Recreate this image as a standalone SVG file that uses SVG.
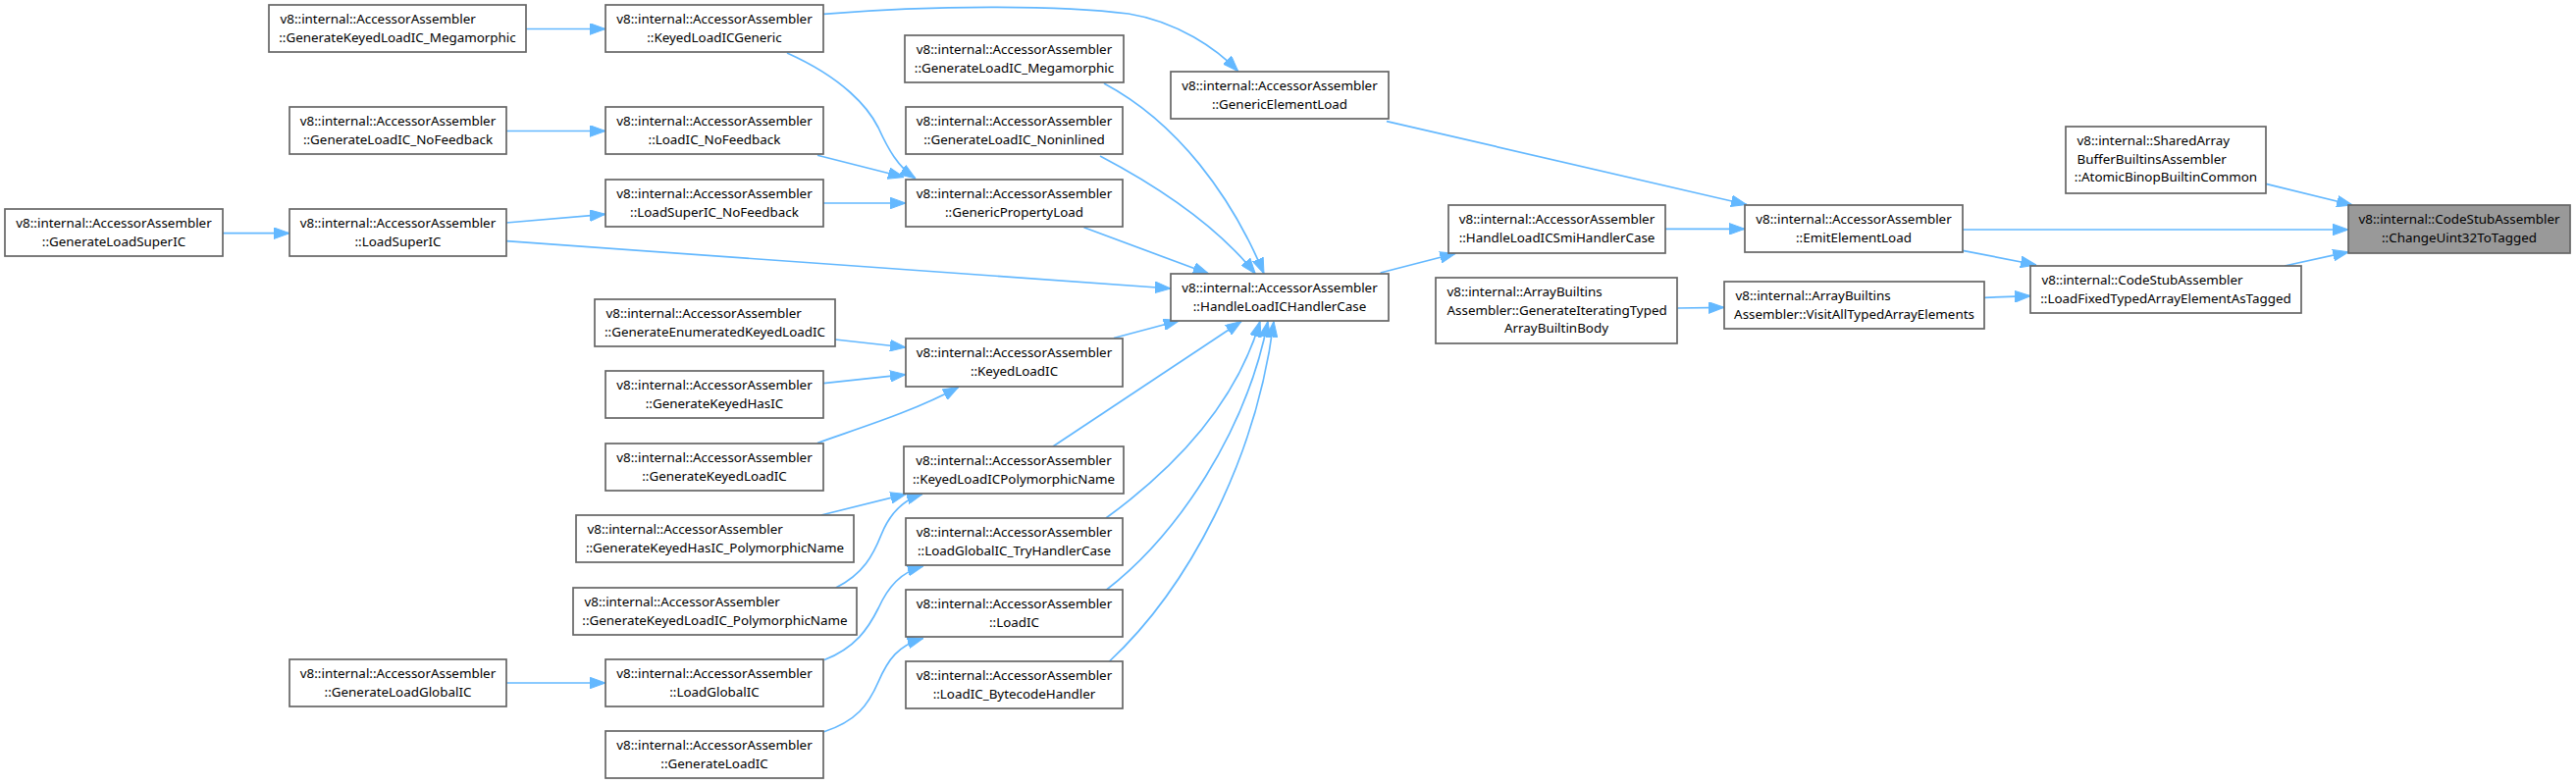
<svg xmlns="http://www.w3.org/2000/svg" width="2625" height="799" viewBox="0 0 2625 799">
<style>
.node rect{fill:#ffffff;stroke:#666666;stroke-width:1.7}
.node.hl rect{fill:#999999}
.node text{font-family:"Noto Sans","Open Sans","DejaVu Sans",sans-serif;font-size:13.4px;fill:#000000}
.c{text-anchor:middle}
.l{text-anchor:start}
.edge{fill:none;stroke:#63b8ff;stroke-width:1.7;marker-end:url(#arr)}
</style>
<defs>
<marker id="arr" markerUnits="userSpaceOnUse" viewBox="0 0 16 12" markerWidth="16" markerHeight="12" refX="16" refY="6" orient="auto">
<path d="M0,0.2 L16,6 L0,11.8 z" fill="#63b8ff" stroke="#63b8ff" stroke-width="1"/>
</marker>
</defs>
<rect x="0" y="0" width="2625" height="799" fill="#ffffff"/>
<g id="edges">
<path class="edge" d="M536,29.5 L617,29.5"/>
<path class="edge" d="M839,14.3 C950,5 1080,5 1150,14 C1200,22 1240,50 1261.7,72.7"/>
<path class="edge" d="M802,54 C860,80 885,110 895,130 C905,152 915,170 933,182"/>
<path class="edge" d="M516,133.5 L617,133.5"/>
<path class="edge" d="M833,158.3 L921,180.5"/>
<path class="edge" d="M839,207 L923,207"/>
<path class="edge" d="M227,237.7 L295,237.7"/>
<path class="edge" d="M516,227 L617,218.3"/>
<path class="edge" d="M516,245.7 L1193,294"/>
<path class="edge" d="M1125,85 C1200,125 1255,200 1288,279"/>
<path class="edge" d="M1121,159 C1180,190 1240,230 1279.3,279"/>
<path class="edge" d="M1104.5,231.7 L1231.7,279"/>
<path class="edge" d="M1413,123.6 L1780,208.5"/>
<path class="edge" d="M1406.7,278 L1483.3,258.3"/>
<path class="edge" d="M1697,233.3 L1778,233.3"/>
<path class="edge" d="M2000,234 L2393,234"/>
<path class="edge" d="M2000,255.3 L2075,270"/>
<path class="edge" d="M2309,187.3 L2397.3,209"/>
<path class="edge" d="M2328,271 L2393.3,256.7"/>
<path class="edge" d="M2022,303.3 L2069.3,301.7"/>
<path class="edge" d="M1709.3,314 L1757,313.3"/>
<path class="edge" d="M1135,344.5 L1201.7,326.7"/>
<path class="edge" d="M851,346 L923,354"/>
<path class="edge" d="M839,390.7 L923,381.7"/>
<path class="edge" d="M833,451.5 C870,438 930,420 976.7,394.5"/>
<path class="edge" d="M1073,455 L1265,327.5"/>
<path class="edge" d="M836.7,525 L923.3,503.5"/>
<path class="edge" d="M851.7,599 C880,585 890,565 898,545 C906,525 918,510 940,503.5"/>
<path class="edge" d="M1127,528 C1200,475 1260,410 1284,327.5"/>
<path class="edge" d="M840,672.5 C872,660 885,640 895,620 C905,598 918,583 940.7,577"/>
<path class="edge" d="M516,696 L617,696"/>
<path class="edge" d="M1127,601.5 C1200,545 1270,440 1292,327.5"/>
<path class="edge" d="M839,746 C873,735 885,718 895,695 C905,672 915,658 940.7,650.5"/>
<path class="edge" d="M1130,674.5 C1210,600 1280,470 1298,327.5"/>
</g>
<g id="gen_klic_mega" class="node"><rect x="274" y="5" width="262" height="48"/><text class="l" x="285.5" y="24">v8::internal::AccessorAssembler</text><text class="c" x="405" y="42.5">::GenerateKeyedLoadIC_Megamorphic</text></g>
<g id="klic_generic" class="node"><rect x="617" y="5" width="222" height="48"/><text class="c" x="728" y="24">v8::internal::AccessorAssembler</text><text class="c" x="728" y="42.5">::KeyedLoadICGeneric</text></g>
<g id="gen_lic_nofb" class="node"><rect x="295" y="109" width="221" height="48"/><text class="c" x="405.5" y="128">v8::internal::AccessorAssembler</text><text class="c" x="405.5" y="146.5">::GenerateLoadIC_NoFeedback</text></g>
<g id="lic_nofb" class="node"><rect x="617" y="109" width="222" height="48"/><text class="c" x="728" y="128">v8::internal::AccessorAssembler</text><text class="c" x="728" y="146.5">::LoadIC_NoFeedback</text></g>
<g id="lsic_nofb" class="node"><rect x="617" y="183" width="222" height="48"/><text class="c" x="728" y="202">v8::internal::AccessorAssembler</text><text class="c" x="728" y="220.5">::LoadSuperIC_NoFeedback</text></g>
<g id="gen_lsic" class="node"><rect x="5" y="213" width="222" height="48"/><text class="c" x="116" y="232">v8::internal::AccessorAssembler</text><text class="c" x="116" y="250.5">::GenerateLoadSuperIC</text></g>
<g id="lsic" class="node"><rect x="295" y="213" width="221" height="48"/><text class="c" x="405.5" y="232">v8::internal::AccessorAssembler</text><text class="c" x="405.5" y="250.5">::LoadSuperIC</text></g>
<g id="gen_enum_klic" class="node"><rect x="606" y="305" width="245" height="48"/><text class="l" x="617.5" y="324">v8::internal::AccessorAssembler</text><text class="c" x="728.5" y="342.5">::GenerateEnumeratedKeyedLoadIC</text></g>
<g id="gen_khasic" class="node"><rect x="617" y="378" width="222" height="48"/><text class="c" x="728" y="397">v8::internal::AccessorAssembler</text><text class="c" x="728" y="415.5">::GenerateKeyedHasIC</text></g>
<g id="gen_klic" class="node"><rect x="617" y="452" width="222" height="48"/><text class="c" x="728" y="471">v8::internal::AccessorAssembler</text><text class="c" x="728" y="489.5">::GenerateKeyedLoadIC</text></g>
<g id="gen_khasic_poly" class="node"><rect x="587" y="525" width="283" height="48"/><text class="l" x="598.5" y="544">v8::internal::AccessorAssembler</text><text class="c" x="728.5" y="562.5">::GenerateKeyedHasIC_PolymorphicName</text></g>
<g id="gen_klic_poly" class="node"><rect x="584" y="599" width="289" height="48"/><text class="l" x="595.5" y="618">v8::internal::AccessorAssembler</text><text class="c" x="728.5" y="636.5">::GenerateKeyedLoadIC_PolymorphicName</text></g>
<g id="gen_lgic" class="node"><rect x="295" y="672" width="221" height="48"/><text class="c" x="405.5" y="691">v8::internal::AccessorAssembler</text><text class="c" x="405.5" y="709.5">::GenerateLoadGlobalIC</text></g>
<g id="lgic" class="node"><rect x="617" y="672" width="222" height="48"/><text class="c" x="728" y="691">v8::internal::AccessorAssembler</text><text class="c" x="728" y="709.5">::LoadGlobalIC</text></g>
<g id="gen_lic" class="node"><rect x="617" y="745" width="222" height="48"/><text class="c" x="728" y="764">v8::internal::AccessorAssembler</text><text class="c" x="728" y="782.5">::GenerateLoadIC</text></g>
<g id="gen_lic_mega" class="node"><rect x="922" y="36" width="223" height="48"/><text class="c" x="1033.5" y="55">v8::internal::AccessorAssembler</text><text class="c" x="1033.5" y="73.5">::GenerateLoadIC_Megamorphic</text></g>
<g id="generic_elem" class="node"><rect x="1193" y="73" width="222" height="48"/><text class="c" x="1304" y="92">v8::internal::AccessorAssembler</text><text class="c" x="1304" y="110.5">::GenericElementLoad</text></g>
<g id="gen_lic_nonin" class="node"><rect x="923" y="109" width="221" height="48"/><text class="c" x="1033.5" y="128">v8::internal::AccessorAssembler</text><text class="c" x="1033.5" y="146.5">::GenerateLoadIC_Noninlined</text></g>
<g id="generic_prop" class="node"><rect x="923" y="183" width="221" height="48"/><text class="c" x="1033.5" y="202">v8::internal::AccessorAssembler</text><text class="c" x="1033.5" y="220.5">::GenericPropertyLoad</text></g>
<g id="klic" class="node"><rect x="923" y="345" width="221" height="49"/><text class="c" x="1033.5" y="364">v8::internal::AccessorAssembler</text><text class="c" x="1033.5" y="382.5">::KeyedLoadIC</text></g>
<g id="klic_poly" class="node"><rect x="921" y="455" width="224" height="48"/><text class="c" x="1033" y="474">v8::internal::AccessorAssembler</text><text class="c" x="1033" y="492.5">::KeyedLoadICPolymorphicName</text></g>
<g id="lgic_try" class="node"><rect x="923" y="528" width="221" height="48"/><text class="c" x="1033.5" y="547">v8::internal::AccessorAssembler</text><text class="c" x="1033.5" y="565.5">::LoadGlobalIC_TryHandlerCase</text></g>
<g id="lic" class="node"><rect x="923" y="601" width="221" height="48"/><text class="c" x="1033.5" y="620">v8::internal::AccessorAssembler</text><text class="c" x="1033.5" y="638.5">::LoadIC</text></g>
<g id="lic_bh" class="node"><rect x="923" y="674" width="221" height="48"/><text class="c" x="1033.5" y="693">v8::internal::AccessorAssembler</text><text class="c" x="1033.5" y="711.5">::LoadIC_BytecodeHandler</text></g>
<g id="hlic_hc" class="node"><rect x="1193" y="279" width="222" height="48"/><text class="c" x="1304" y="298">v8::internal::AccessorAssembler</text><text class="c" x="1304" y="316.5">::HandleLoadICHandlerCase</text></g>
<g id="hlic_smi" class="node"><rect x="1476" y="209" width="221" height="49"/><text class="c" x="1586.5" y="228">v8::internal::AccessorAssembler</text><text class="c" x="1586.5" y="246.5">::HandleLoadICSmiHandlerCase</text></g>
<g id="arr_gen_iter" class="node"><rect x="1463" y="283" width="246" height="67"/><text class="l" x="1474.5" y="302">v8::internal::ArrayBuiltins</text><text class="l" x="1474.5" y="320.5">Assembler::GenerateIteratingTyped</text><text class="c" x="1586" y="339">ArrayBuiltinBody</text></g>
<g id="emit_elem" class="node"><rect x="1778" y="209" width="222" height="48"/><text class="c" x="1889" y="228">v8::internal::AccessorAssembler</text><text class="c" x="1889" y="246.5">::EmitElementLoad</text></g>
<g id="visit_all" class="node"><rect x="1757" y="287" width="265" height="48"/><text class="l" x="1768.5" y="306">v8::internal::ArrayBuiltins</text><text class="c" x="1889.5" y="324.5">Assembler::VisitAllTypedArrayElements</text></g>
<g id="load_fixed" class="node"><rect x="2069" y="271" width="276" height="48"/><text class="l" x="2080.5" y="290">v8::internal::CodeStubAssembler</text><text class="c" x="2207" y="308.5">::LoadFixedTypedArrayElementAsTagged</text></g>
<g id="shared_array" class="node"><rect x="2105" y="129" width="204" height="68"/><text class="l" x="2116.5" y="148">v8::internal::SharedArray</text><text class="l" x="2116.5" y="166.5">BufferBuiltinsAssembler</text><text class="c" x="2207" y="185">::AtomicBinopBuiltinCommon</text></g>
<g id="change" class="node hl"><rect x="2393" y="209" width="226" height="49"/><text class="c" x="2506" y="228">v8::internal::CodeStubAssembler</text><text class="c" x="2506" y="246.5">::ChangeUint32ToTagged</text></g>
</svg>
